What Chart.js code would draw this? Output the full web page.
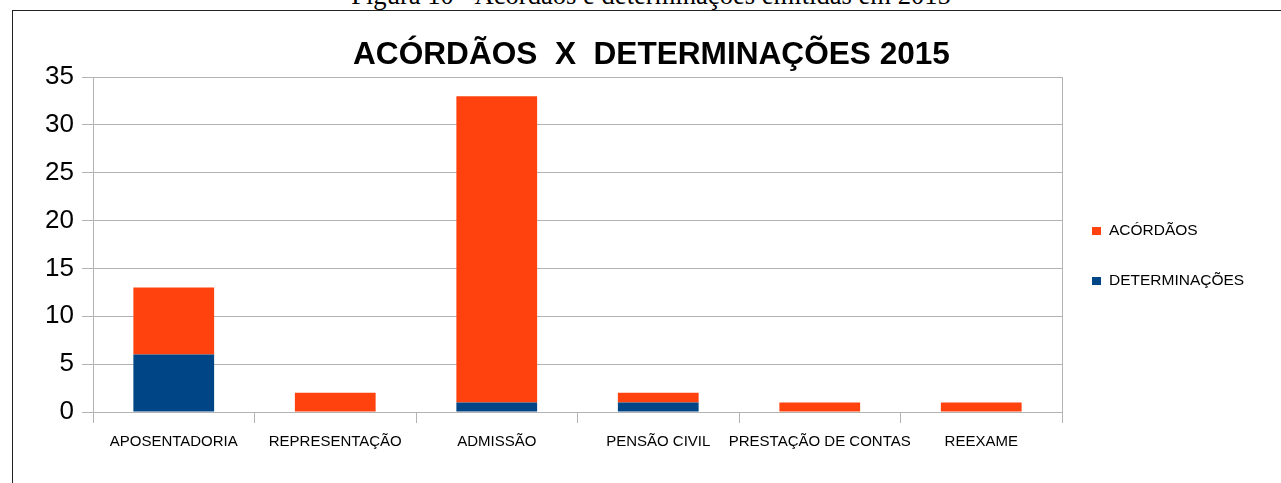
<!DOCTYPE html>
<html><head><meta charset="utf-8">
<script src="https://cdn.jsdelivr.net/npm/chart.js@4.4.1/dist/chart.umd.min.js"></script>
<style>
html,body{margin:0;padding:0;background:#fff;overflow:hidden;width:1281px;height:483px;}
#frame{position:absolute;left:12px;top:10px;width:1400px;height:600px;border:1px solid #222;box-sizing:border-box;}
#caption{position:absolute;left:651px;top:-18px;transform:translateX(-50%);white-space:nowrap;font-family:'Liberation Serif','Times New Roman',serif;font-size:26.6px;line-height:26.6px;color:#000;}
canvas{position:absolute;left:0;top:0;}
</style></head><body>
<div id="caption">Figura 10 - Acórdãos e determinações emitidas em 2015</div>
<div id="frame"></div>
<canvas id="c" width="1281" height="483"></canvas>
<script>
const categories = ['APOSENTADORIA','REPRESENTAÇÃO','ADMISSÃO','PENSÃO CIVIL','PRESTAÇÃO DE CONTAS','REEXAME'];
const determinacoes = [6, 0, 1, 1, 0, 0];
const acordaos = [7, 2, 32, 1, 1, 1];
const seriesNames = ['DETERMINAÇÕES', 'ACÓRDÃOS'];
const seriesColors = ['#004586', '#ff420e'];
const chartTitle = 'ACÓRDÃOS  X  DETERMINAÇÕES 2015';
const yMin = 0, yMax = 35, yStep = 5;

const GRID = '#b3b3b3';
const SANS = "'Liberation Sans', Arial, sans-serif";

const legendPlugin = {
  id: 'customLegend',
  afterDraw(chart) {
    const ctx = chart.ctx, ca = chart.chartArea;
    const ds = chart.data.datasets.slice().reverse();
    ctx.save();
    ctx.font = "15.5px " + SANS;
    ctx.textBaseline = 'middle';
    ctx.textAlign = 'left';
    ds.forEach((d, i) => {
      const y = ca.top + 154 + i * 50;
      ctx.fillStyle = d.backgroundColor;
      ctx.fillRect(ca.right + 30, y - 4, 9, 8);
      ctx.fillStyle = '#000';
      ctx.fillText(d.label, ca.right + 47, y);
    });
    ctx.restore();
  }
};

new Chart(document.getElementById('c'), {
  type: 'bar',
  data: {
    labels: categories,
    datasets: [
      { label: seriesNames[0], data: determinacoes, backgroundColor: seriesColors[0], borderWidth: 0 },
      { label: seriesNames[1], data: acordaos, backgroundColor: seriesColors[1], borderWidth: 0 }
    ]
  },
  options: {
    responsive: false,
    animation: false,
    devicePixelRatio: 1,
    barPercentage: 0.5,
    categoryPercentage: 1.0,
    layout: { padding: { left: 22, right: 0, top: 0, bottom: 0 } },
    plugins: {
      legend: { display: false },
      tooltip: { enabled: false },
      title: {
        display: true,
        text: chartTitle,
        color: '#000',
        font: { family: "'Liberation Sans Narrow', 'Arial Narrow', " + SANS, size: 31.6, weight: 'bold' },
        padding: { top: 36.6, bottom: 2.5 }
      }
    },
    scales: {
      x: {
        stacked: true,
        grid: { display: true, drawOnChartArea: false, drawTicks: true, tickLength: 11, color: GRID, offset: true },
        border: { display: true, color: GRID },
        ticks: { color: '#000', font: { family: SANS, size: 15 }, padding: 10, maxRotation: 0, autoSkip: false },
        afterFit(s) { s.height = 71; }
      },
      y: {
        stacked: true,
        min: yMin, max: yMax,
        grid: { color: GRID, tickLength: 11 },
        border: { display: true, color: GRID },
        ticks: { stepSize: yStep, color: '#000', font: { family: SANS, size: 26 }, padding: 8 },
        afterFit(s) { s.width = 71; }
      },
      yR: {
        type: 'linear',
        position: 'right',
        display: true,
        grid: { display: false, drawTicks: false },
        ticks: { display: false },
        border: { display: true, color: GRID },
        afterFit(s) { s.width = 219; }
      }
    }
  },
  plugins: [legendPlugin]
});
</script>
</body></html>
